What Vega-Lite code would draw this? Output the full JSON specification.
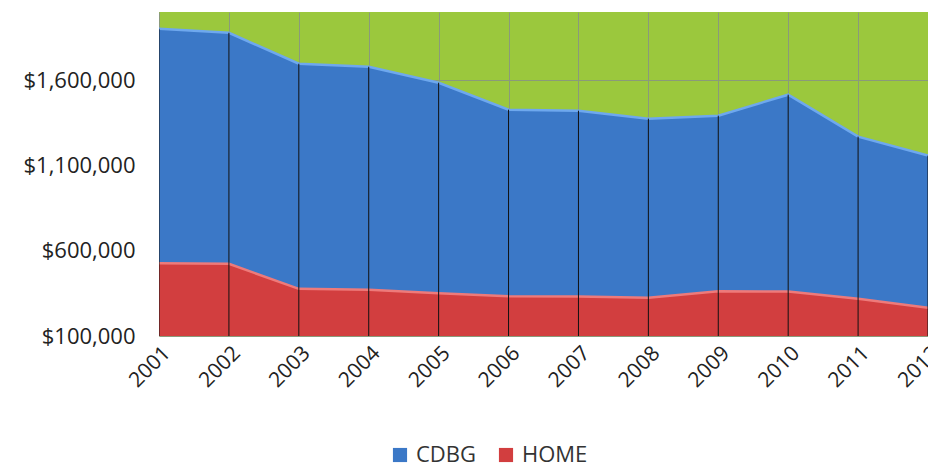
{
  "$schema": "https://vega.github.io/schema/vega-lite/v6.json",
  "autosize": "none",
  "width": 769,
  "height": 324,
  "padding": {"left": 159, "top": 12, "right": 0, "bottom": 134},
  "background": "white",
  "config": {
    "view": {"fill": "#9BC83D", "stroke": null},
    "font": "Open Sans",
    "axis": {"labelFont": "Open Sans", "labelColor": "#222222", "labelFontSize": 21}
  },
  "data": {
    "values": [
      {"year": 2001, "series": "HOME", "amount": 526500},
      {"year": 2002, "series": "HOME", "amount": 523000},
      {"year": 2003, "series": "HOME", "amount": 376600},
      {"year": 2004, "series": "HOME", "amount": 370700},
      {"year": 2005, "series": "HOME", "amount": 350800},
      {"year": 2006, "series": "HOME", "amount": 333200},
      {"year": 2007, "series": "HOME", "amount": 331400},
      {"year": 2008, "series": "HOME", "amount": 323800},
      {"year": 2009, "series": "HOME", "amount": 362500},
      {"year": 2010, "series": "HOME", "amount": 360700},
      {"year": 2011, "series": "HOME", "amount": 318000},
      {"year": 2012, "series": "HOME", "amount": 265200},
      {"year": 2001, "series": "CDBG", "amount": 1375200},
      {"year": 2002, "series": "CDBG", "amount": 1355200},
      {"year": 2003, "series": "CDBG", "amount": 1320000},
      {"year": 2004, "series": "CDBG", "amount": 1308300},
      {"year": 2005, "series": "CDBG", "amount": 1234500},
      {"year": 2006, "series": "CDBG", "amount": 1093900},
      {"year": 2007, "series": "CDBG", "amount": 1089800},
      {"year": 2008, "series": "CDBG", "amount": 1050500},
      {"year": 2009, "series": "CDBG", "amount": 1029400},
      {"year": 2010, "series": "CDBG", "amount": 1154300},
      {"year": 2011, "series": "CDBG", "amount": 950900},
      {"year": 2012, "series": "CDBG", "amount": 892300}
    ]
  },
  "layer": [
    {
      "mark": {"type": "area", "clip": true, "opacity": 1},
      "encoding": {
        "x": {
          "field": "year", "type": "quantitative",
          "scale": {"domain": [2001, 2012], "nice": false, "zero": false},
          "axis": {
            "values": [2001, 2002, 2003, 2004, 2005, 2006, 2007, 2008, 2009, 2010, 2011, 2012],
            "format": "d", "labelAngle": -45, "title": null, "domain": false, "ticks": false,
            "grid": true, "gridColor": "#8A9A7A", "gridWidth": 1, "labelPadding": 6, "labelFlush": false
          }
        },
        "y": {
          "field": "amount", "type": "quantitative", "stack": "zero",
          "scale": {"domain": [100000, 2000000], "nice": false, "zero": false},
          "axis": {
            "values": [100000, 600000, 1100000, 1600000],
            "format": "$,.0f", "title": null, "domain": false, "ticks": false,
            "grid": true, "gridColor": "#8A9A7A", "gridWidth": 1, "labelPadding": 24, "labelFontSize": 22
          }
        },
        "color": {
          "field": "series", "type": "nominal",
          "scale": {"domain": ["CDBG", "HOME"], "range": ["#3B78C7", "#D23E3F"]},
          "legend": {
            "orient": "none", "legendX": 230, "legendY": 432, "direction": "horizontal",
            "title": null, "symbolType": "square", "symbolSize": 200, "symbolStrokeWidth": 0,
            "labelFontSize": 22, "labelFont": "Open Sans", "labelColor": "#333333", "columnPadding": 18, "labelOffset": 5
          }
        },
        "order": {"field": "series", "type": "nominal", "sort": "descending"}
      }
    },
    {
      "mark": {"type": "line", "clip": true, "strokeWidth": 2.5, "interpolate": "linear"},
      "encoding": {
        "x": {"field": "year", "type": "quantitative"},
        "y": {"field": "amount", "type": "quantitative", "stack": "zero"},
        "stroke": {
          "field": "series", "type": "nominal",
          "scale": {"domain": ["CDBG", "HOME"], "range": ["#6EA8EE", "#EE7A7A"]},
          "legend": null
        },
        "order": {"field": "series", "type": "nominal", "sort": "descending"}
      }
    },
    {
      "transform": [{"aggregate": [{"op": "sum", "field": "amount", "as": "total"}], "groupby": ["year"]}],
      "mark": {"type": "rule", "color": "#111111", "strokeWidth": 1, "clip": true},
      "encoding": {
        "x": {"field": "year", "type": "quantitative"},
        "y": {"field": "total", "type": "quantitative"},
        "y2": {"datum": 0}
      }
    }
  ]
}
